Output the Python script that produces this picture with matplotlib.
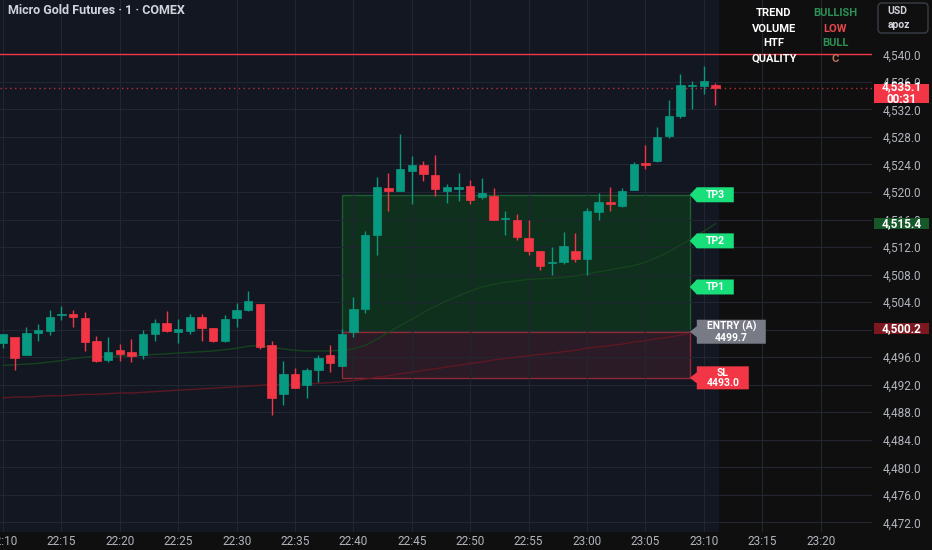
import numpy as np
import matplotlib
matplotlib.use("Agg")
import matplotlib.pyplot as plt
from matplotlib.patches import Rectangle, Polygon, FancyBboxPatch
from matplotlib.transforms import IdentityTransform

plt.rcParams['font.family'] = ['Roboto', 'DejaVu Sans']

# 1-minute bars starting 22:10
opens = [4498.0, 4498.9, 4496.3, 4499.5, 4499.8, 4502.1, 4502.3, 4501.7, 4498.3, 4495.6,
         4497.0, 4496.7, 4496.3, 4499.3, 4501.0, 4499.7, 4499.8, 4501.8, 4500.3, 4498.3,
         4501.7, 4502.8, 4503.7, 4497.8, 4490.7, 4493.5, 4492.0, 4494.2, 4496.3, 4494.7,
         4499.6, 4503.0, 4513.8, 4520.6, 4520.1, 4523.1, 4523.9, 4522.5, 4520.1, 4520.4,
         4520.9, 4519.3, 4519.4, 4516.1, 4516.0, 4513.3, 4511.4, 4509.7, 4509.8, 4511.5,
         4510.3, 4517.1, 4518.5, 4517.9, 4520.3, 4524.2, 4524.5, 4528.1, 4531.0, 4535.4,
         4535.4, 4535.6]
highs = [4499.4, 4498.9, 4500.4, 4500.8, 4502.8, 4503.5, 4502.8, 4502.5, 4499.1, 4499.0,
         4497.9, 4498.7, 4499.9, 4501.5, 4502.7, 4501.5, 4502.3, 4502.3, 4500.3, 4502.1,
         4503.9, 4505.6, 4503.7, 4498.4, 4495.4, 4494.5, 4494.5, 4496.3, 4497.7, 4500.1,
         4504.8, 4514.4, 4522.2, 4522.7, 4528.4, 4525.2, 4524.5, 4525.4, 4521.1, 4522.8,
         4521.8, 4522.0, 4520.6, 4517.3, 4516.8, 4515.9, 4511.4, 4512.0, 4514.2, 4514.0,
         4517.7, 4519.8, 4520.7, 4520.6, 4524.4, 4526.9, 4529.4, 4533.3, 4537.1, 4536.2,
         4538.3, 4535.8]
lows = [4497.3, 4494.1, 4496.3, 4498.4, 4499.2, 4501.4, 4500.4, 4496.9, 4495.3, 4495.3,
        4495.5, 4495.3, 4495.8, 4498.4, 4499.7, 4498.1, 4499.4, 4498.4, 4498.2, 4498.2,
        4500.4, 4502.7, 4497.2, 4487.6, 4489.0, 4491.5, 4490.0, 4492.4, 4493.8, 4494.7,
        4499.0, 4502.4, 4510.8, 4517.2, 4520.1, 4518.3, 4521.6, 4519.4, 4518.4, 4518.7,
        4518.3, 4519.0, 4515.9, 4513.8, 4513.0, 4510.8, 4508.6, 4508.0, 4509.5, 4509.8,
        4507.9, 4515.9, 4517.2, 4517.8, 4520.3, 4523.3, 4524.4, 4527.9, 4530.7, 4532.0,
        4534.3, 4532.7]
closes = [4499.3, 4495.9, 4499.5, 4499.9, 4501.9, 4502.3, 4501.8, 4498.2, 4495.4, 4496.8,
          4496.4, 4496.2, 4499.3, 4500.9, 4499.8, 4500.1, 4501.8, 4500.3, 4498.3, 4501.5,
          4502.8, 4504.2, 4497.5, 4490.0, 4493.5, 4491.5, 4494.1, 4495.9, 4495.1, 4499.4,
          4503.0, 4513.7, 4520.7, 4520.1, 4523.4, 4523.9, 4522.6, 4520.5, 4520.8, 4520.8,
          4518.9, 4519.8, 4515.9, 4516.2, 4513.5, 4511.5, 4509.3, 4509.8, 4512.2, 4510.3,
          4517.3, 4518.5, 4518.3, 4520.2, 4524.1, 4523.9, 4528.0, 4531.1, 4535.5, 4535.5,
          4536.1, 4535.1]

fast_ma = [4494.8, 4494.9, 4495.0, 4495.1, 4495.3, 4495.5, 4495.8, 4496.0, 4496.1, 4496.1,
           4496.2, 4496.2, 4496.3, 4496.4, 4496.5, 4496.6, 4496.7, 4496.8, 4496.9, 4497.1,
           4497.3, 4497.6, 4497.7, 4497.4, 4497.2, 4497.0, 4496.9, 4496.9, 4496.9, 4497.0,
           4497.2, 4497.7, 4498.6, 4499.6, 4500.6, 4501.5, 4502.5, 4503.4, 4504.2, 4504.9,
           4505.6, 4506.2, 4506.6, 4506.9, 4507.1, 4507.3, 4507.4, 4507.5, 4507.6, 4507.8,
           4508.1, 4508.4, 4508.7, 4509.0, 4509.3, 4509.8, 4510.5, 4511.3, 4512.3, 4513.3,
           4514.3, 4515.4]
slow_ma = [4490.1, 4490.2, 4490.2, 4490.3, 4490.4, 4490.4, 4490.5, 4490.6, 4490.6, 4490.7,
           4490.8, 4490.8, 4490.9, 4491.0, 4491.1, 4491.2, 4491.3, 4491.4, 4491.5, 4491.6,
           4491.7, 4491.8, 4491.9, 4492.0, 4492.0, 4492.1, 4492.1, 4492.2, 4492.3, 4492.4,
           4492.6, 4492.8, 4493.1, 4493.3, 4493.6, 4493.8, 4494.1, 4494.3, 4494.6, 4494.8,
           4495.1, 4495.3, 4495.6, 4495.8, 4496.0, 4496.2, 4496.4, 4496.6, 4496.8, 4497.0,
           4497.3, 4497.5, 4497.7, 4497.9, 4498.2, 4498.4, 4498.7, 4498.9, 4499.2, 4499.5,
           4499.8, 4500.2]

time_labels = ['22:10', '22:15', '22:20', '22:25', '22:30', '22:35', '22:40', '22:45',
               '22:50', '22:55', '23:00', '23:05', '23:10', '23:15', '23:20']
price_ticks = list(range(4472, 4544, 4))

entry = 4499.7
stop = 4493.0
targets = [4506.2, 4512.9, 4519.6]
resistance = 4540.1
zone_start, zone_end = 29, 58.8

table_rows = [('TREND', 'BULLISH', '#2a9257'), ('VOLUME', 'LOW', '#e5484d'),
              ('HTF', 'BULL', '#2a9257'), ('QUALITY', 'C', '#c0735f')]

BG = '#131722'
DARK = '#0f0f0f'
UP = '#089981'
DOWN = '#f23645'
TXT = '#b2b5be'
W, H = 932, 550

fig = plt.figure(figsize=(W / 100, H / 100), dpi=100, facecolor=DARK)
ax = fig.add_axes([0, 18 / H, 872 / W, 532 / H])
ax.set_facecolor(BG)
ax.set_xlim(-0.257, 74.4)
ax.set_ylim(4470.6, 4547.9)
for s in ax.spines.values():
    s.set_visible(False)

# future area is darker
ax.axvspan(61.3, 80, color=DARK, zorder=0, lw=0)
ax.grid(True, color='#222633', lw=0.8)

x = np.arange(len(opens))
o = np.array(opens); c = np.array(closes)
cols = [UP if cc >= oo else DOWN for oo, cc in zip(o, c)]
ax.vlines(x, lows, highs, colors=cols, lw=1, zorder=3)
ax.bar(x, np.maximum(np.abs(c - o), 0.15), bottom=np.minimum(o, c), width=0.72,
       color=cols, edgecolor=cols, lw=0.5, zorder=4)

ax.plot(x, fast_ma, color='#16421f', lw=1.0, zorder=2)
ax.plot(x, slow_ma, color='#5c1822', lw=1.0, zorder=2)

# trade zones
ax.add_patch(Rectangle((zone_start, entry), zone_end - zone_start, targets[2] - entry,
                       facecolor='#0e301d', edgecolor='#1c5e30', lw=1, zorder=1))
ax.add_patch(Rectangle((zone_start, stop), zone_end - zone_start, entry - stop,
                       facecolor='#2b1b26', edgecolor='#8e2a37', lw=1, zorder=1))

ax.axhline(resistance, color=DOWN, lw=1, zorder=2)
ax.axhline(closes[-1], color=DOWN, lw=1, ls=(0, (1, 2.5)), alpha=0.75, zorder=2)

ax.set_xticks(range(0, 75, 5))
ax.set_xticklabels(time_labels)
ax.tick_params(axis='x', length=0, pad=2, labelsize=8.5, colors=TXT)
ax.yaxis.tick_right()
ax.set_yticks(price_ticks)
# the 4,500.0 label sits fully under the slow MA tag
ax.set_yticklabels(['' if p == 4500 else '{:,.1f}'.format(p) for p in price_ticks])
ax.tick_params(axis='y', length=0, pad=8, labelsize=8.5, colors=TXT)

ID = IdentityTransform()


def tag(xd, price, text, color, w, h, notch, fs=7.5):
    tx, ty = ax.transData.transform((xd, price))
    nose = 7
    pts = [(tx, ty), (tx + nose, ty + notch / 2), (tx + nose, ty + h / 2),
           (tx + nose + w, ty + h / 2), (tx + nose + w, ty - h / 2),
           (tx + nose, ty - h / 2), (tx + nose, ty - notch / 2)]
    ax.add_patch(Polygon(pts, closed=True, transform=ID, facecolor=color,
                         edgecolor='none', clip_on=False, zorder=6))
    ax.text(tx + nose + w / 2, ty, text, transform=ID, ha='center', va='center',
            color='white', fontsize=fs, fontweight='bold', linespacing=1.05,
            zorder=7, clip_on=False)


for k, tp in enumerate(targets):
    tag(zone_end, tp, 'TP%d' % (k + 1), '#19df7b', 37, 15, 15)
tag(zone_end, entry, 'ENTRY (A)\n%.1f' % entry, '#787b86', 69, 24, 11)
tag(zone_end, stop, 'SL\n%.1f' % stop, DOWN, 52, 23, 11)


def axis_tag(price, text, bg, above, below):
    ty = ax.transData.transform((0, price))[1]
    fig.patches.append(Rectangle((874, ty - below), 55, above + below, transform=ID,
                                 facecolor=bg, edgecolor='none', zorder=5))
    fig.text(902, ty + (above - below) / 2, text, transform=ID, ha='center', va='center',
             color='white', fontsize=8.5, fontweight='bold', linespacing=1.0, zorder=6)


axis_tag(fast_ma[-1], '{:,.1f}'.format(fast_ma[-1]), '#17582a', 5.5, 5.5)
axis_tag(slow_ma[-1], '{:,.1f}'.format(slow_ma[-1]), '#7d1820', 5.5, 5.5)
axis_tag(closes[-1], '{:,.1f}\n00:31'.format(closes[-1]), DOWN, 4.5, 14.5)

# title
fig.text(8, H - 11, 'Micro Gold Futures · 1 · COMEX', transform=ID, ha='left',
         va='center', color='#d1d4dc', fontsize=9, fontweight='semibold')

# status table
for r, (name, val, vc) in enumerate(table_rows):
    yy = H - (13.5 + 15 * r)
    fig.text(774, yy, name, transform=ID, ha='center', va='center', color='white',
             fontsize=8, fontweight='bold')
    fig.text(835, yy, val, transform=ID, ha='center', va='center', color=vc,
             fontsize=8, fontweight='bold')

# currency box
fig.patches.append(FancyBboxPatch((878, H - 33), 50, 30, boxstyle='round,pad=0,rounding_size=4',
                                  transform=ID, facecolor=DARK, edgecolor='#3a3e48', lw=1))
fig.text(897, H - 11, 'USD', transform=ID, ha='center', va='center', color='#d1d4dc',
         fontsize=7.5, fontweight='bold')
fig.text(899, H - 25, 'apoz', transform=ID, ha='center', va='center', color='#d1d4dc',
         fontsize=7.5, fontweight='bold')

fig.savefig('out.png', dpi=100, facecolor=DARK)
